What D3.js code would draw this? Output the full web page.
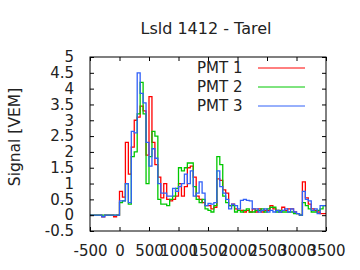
<!DOCTYPE html>
<html>
<head>
<meta charset="utf-8">
<script src="https://cdn.jsdelivr.net/npm/d3@7"></script>
<style>
  body { margin: 0; background: #fff; }
  svg { display: block; }
  text { font-family: "DejaVu Sans", sans-serif; fill: #222; }
</style>
</head>
<body>
<svg id="chart" width="360" height="270"></svg>
<script>
// time bins in ns (start of each 50 ns bin), last edge closes the histogram
var binStart = -500;
var binWidth = 50;
var seriesNames = ["PMT 1", "PMT 2", "PMT 3"];
var seriesColors = ["#ff0000", "#00c800", "#3060f8"];

var pmt1 = [0, 0, 0, 0, -0.05, 0, 0, 0, -0.05, 0,
  0.75, 0.57, 2.3, 1.3, 2.15, 3.0, 3.1, 3.45, 3.3, 1.9, 3.75, 2.3,
  1.6, 1.2, 0.55, 1.0, 0.5, 0.45, 0.5, 0.6, 1.0, 0.6, 0.9, 1.5, 1.55, 1.2, 0.6, 0.5, 0.4, 0.3, 0.3, 0.2,
  0.25, 1.15, 1.1, 0.8, 0.7, 0.3, 0.35, 0.2, 0.15, 0.15, 0.1, 0.15, 0.1, 0.2, 0.1, 0.2, 0.1, 0.15, 0.15, 0.3,
  0.2, 0.15, 0.1, 0.25, 0.15, 0.2, 0.2, 0.1, 0.05, 0, 1.05, 0.55, 0.35, 0.2, 0.15, 0.1, 0.05, 0.05];

var pmt2 = [0, 0, 0, 0, 0, 0, 0, 0, 0, 0,
  0.4, 0.45, 1.0, 0.35, 1.85, 2.0, 3.2, 4.2, 3.2, 1.0, 1.85, 2.65,
  2.5, 0.5, 0.35, 0.35, 0.3, 0.5, 0.6, 0.85, 1.5, 1.4, 1.5, 1.65, 1.65, 0.9, 0.5, 0.4, 0.5, 0.2, 0.15, 0.1,
  0.3, 1.85, 1.6, 0.6, 0.4, 0.3, 0.3, 0.1, 0.15, 0.1, 0.15, 0.2, 0.1, 0.1, 0.15, 0.15, 0.2, 0.1, 0.2, 0.25,
  0.25, 0.1, 0.15, 0.1, 0.1, 0.1, 0.1, 0.05, 0.05, 0, 0.4, 0.3, 0.2, 0.1, 0.1, 0.15, 0.2, 0.3];

var pmt3 = [0, 0, 0, 0, -0.05, 0, 0, 0, 0, 0,
  0.45, 0.45, 1.0, 0.4, 2.65, 2.6, 4.5, 3.85, 3.55, 2.3, 1.55, 2.1,
  1.8, 1.0, 0.7, 0.7, 0.6, 0.6, 0.85, 0.75, 0.9, 1.0, 1.3, 1.0, 1.4, 0.6, 0.7, 1.05, 0.7, 0.3, 0.37, 0.35,
  0.4, 1.4, 0.9, 0.7, 0.5, 0.2, 0.35, 0.3, 0.2, 0.47, 0.5, 0.47, 0.45, 0.2, 0.2, 0.1, 0.15, 0.2, 0.1, 0.15,
  0.1, 0.15, 0.1, 0.15, 0.2, 0.1, 0.2, 0.1, 0.05, 0, 0.75, 0.5, 0.45, 0.15, 0.2, 0.05, 0.3, 0.3];

var xTicks = [-500, 0, 500, 1000, 1500, 2000, 2500, 3000, 3500];
var yTicks = [-0.5, 0, 0.5, 1, 1.5, 2, 2.5, 3, 3.5, 4, 4.5, 5];

var margin = {top: 57, right: 34, bottom: 39, left: 90};
var width = 360 - margin.left - margin.right;
var height = 270 - margin.top - margin.bottom;

var xScale = d3.scaleLinear().domain([-500, 3500]).range([0, width]);
var yScale = d3.scaleLinear().domain([-0.5, 5]).range([height, 0]);

var svg = d3.select("#chart");

svg.append("text")
    .attr("x", margin.left + width / 2 - 2)
    .attr("y", 34)
    .attr("text-anchor", "middle")
    .style("font-size", "16px")
    .text("Lsld 1412 - Tarel");

svg.append("text")
    .attr("transform", "translate(20," + (margin.top + 80) + ") rotate(-90)")
    .attr("text-anchor", "middle")
    .style("font-size", "15.5px")
    .text("Signal [VEM]");

var g = svg.append("g")
    .attr("transform", "translate(" + margin.left + "," + margin.top + ")");

// data as steps
function toSteps(values) {
    var pts = values.map(function(v, i) { return [binStart + i * binWidth, v]; });
    pts.push([binStart + values.length * binWidth, values[values.length - 1]]);
    return pts;
}

var line = d3.line()
    .x(function(d) { return xScale(d[0]); })
    .y(function(d) { return yScale(d[1]); })
    .curve(d3.curveStepAfter);

g.append("clipPath").attr("id", "clip")
    .append("rect").attr("width", width).attr("height", height);

[pmt1, pmt2, pmt3].forEach(function(s, i) {
    g.append("path")
        .datum(toSteps(s))
        .attr("clip-path", "url(#clip)")
        .attr("fill", "none")
        .attr("stroke", seriesColors[i])
        .attr("stroke-width", 1.3)
        .attr("d", line);
});

// plain hyphen like the original, not d3's unicode minus
var plain = function(d) { return String(d); };

function styleAxis(sel, fontSize) {
    sel.select(".domain").remove();
    sel.selectAll("line").attr("stroke", "#000");
    sel.selectAll("text").style("font-size", fontSize).style("font-family", "DejaVu Sans, sans-serif").attr("fill", "#222");
}

// ticks inward on all four sides
g.append("g")
    .attr("transform", "translate(0," + height + ")")
    .call(d3.axisBottom(xScale).tickValues(xTicks).tickSizeInner(-4).tickSizeOuter(0).tickPadding(14).tickFormat(plain))
    .call(styleAxis, "15px");

g.append("g")
    .call(d3.axisTop(xScale).tickValues(xTicks).tickSizeInner(-4).tickSizeOuter(0).tickFormat(""))
    .call(styleAxis, "15px");

g.append("g")
    .call(d3.axisLeft(yScale).tickValues(yTicks).tickSizeInner(-4).tickSizeOuter(0).tickPadding(16).tickFormat(plain))
    .call(styleAxis, "15px");

g.append("g")
    .attr("transform", "translate(" + width + ",0)")
    .call(d3.axisRight(yScale).tickValues(yTicks).tickSizeInner(-4).tickSizeOuter(0).tickFormat(""))
    .call(styleAxis, "15px");

g.append("rect")
    .attr("width", width)
    .attr("height", height)
    .attr("fill", "none")
    .attr("stroke", "#000")
    .attr("stroke-width", 1);

// legend
var legend = g.selectAll(".legend")
    .data(seriesNames)
    .enter().append("g")
    .attr("transform", function(d, i) { return "translate(0," + (11 + i * 19) + ")"; });

legend.append("text")
    .attr("x", 107)
    .attr("y", 5)
    .style("font-size", "15px")
    .text(function(d) { return d; });

legend.append("line")
    .attr("x1", 168)
    .attr("x2", 215)
    .attr("stroke", function(d, i) { return seriesColors[i]; })
    .attr("stroke-width", 1);
</script>
</body>
</html>
